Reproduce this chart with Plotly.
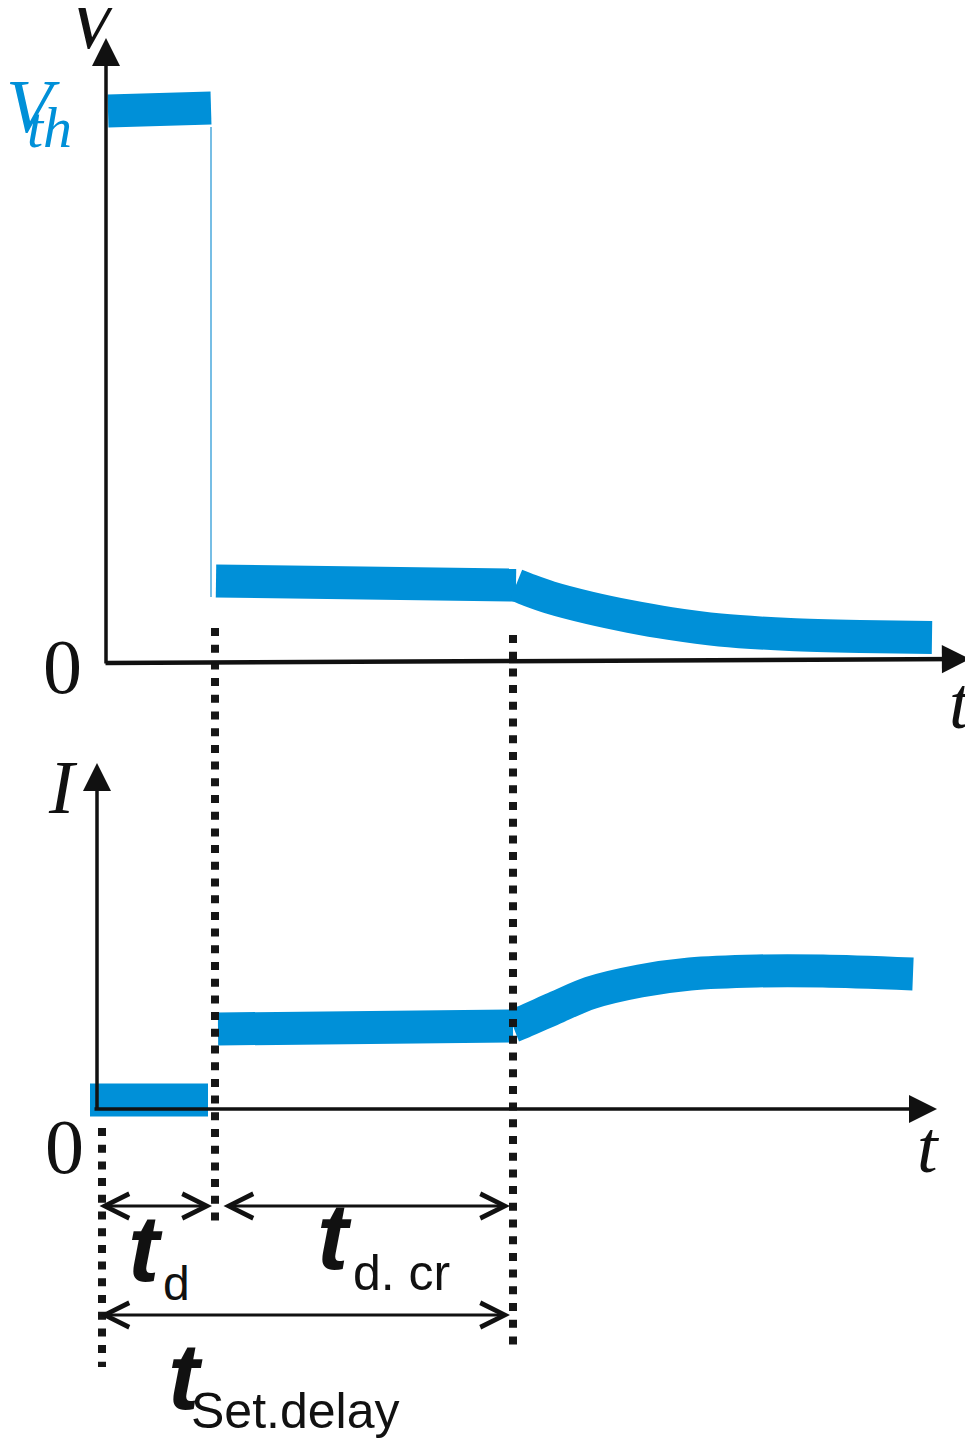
import plotly.graph_objects as go

# ---------------- data (time in arbitrary units, V and I in arbitrary units) -------------
BLUE = "#0090D8"

# Voltage trace
t_vth = [0.08, 1.11]
v_vth = [11.04, 11.10]
t_vdrop = [1.11, 1.11]
v_vdrop = [10.72, 1.32]
t_vlow = [1.16, 4.16]
v_vlow = [1.64, 1.56]
t_vdecay = [4.16, 4.3, 4.5, 4.9, 5.3, 5.7, 6.2, 6.9, 7.6, 8.32]
v_vdecay = [1.56, 1.45, 1.31, 1.10, 0.93, 0.79, 0.66, 0.57, 0.53, 0.51]

# Current trace
t_i0 = [-0.10, 1.08]
i_i0 = [0.18, 0.18]
t_imid = [1.18, 4.13]
i_imid = [1.60, 1.66]
t_irise = [4.13, 4.23, 4.57, 4.9, 5.4, 5.9, 6.57, 7.23, 8.13]
i_irise = [1.66, 1.74, 2.04, 2.32, 2.56, 2.70, 2.76, 2.76, 2.70]

# characteristic times (guide lines)
t_start = 0.02
t_d = 1.15
t_set = 4.13

# guide line extents (in I units)
guide_x = [t_start, t_d, t_set]
guide_top = [-0.38, 9.62, 9.48]
guide_bot = [-5.16, -2.32, -4.88]

fig = go.Figure()

def thick(x, y, yaxis, shape="linear"):
    fig.add_trace(go.Scatter(x=x, y=y, yaxis=yaxis, mode="lines",
                             line=dict(color=BLUE, width=33, shape=shape, smoothing=0.8),
                             hoverinfo="skip"))

thick(t_vth, v_vth, "y")
fig.add_trace(go.Scatter(x=t_vdrop, y=v_vdrop, yaxis="y", mode="lines",
                         line=dict(color="#4AA8DC", width=1.5), hoverinfo="skip"))
thick(t_vlow, v_vlow, "y")
thick(t_vdecay, v_vdecay, "y", "spline")
thick(t_i0, i_i0, "y2")
thick(t_imid, i_imid, "y2")
thick(t_irise, i_irise, "y2", "spline")

for gx, gt, gb in zip(guide_x, guide_top, guide_bot):
    fig.add_trace(go.Scatter(x=[gx, gx], y=[gt, gb], yaxis="y2", mode="lines",
                             line=dict(color="#161616", width=8, dash="8px,8.7px"),
                             hoverinfo="skip"))

ann = []

def arrow(x, y, ax, ay, yref, width, size, head=2, both=False):
    d = dict(x=x, y=y, ax=ax, ay=ay, xref="x", yref=yref, axref="x", ayref=yref,
             text="", showarrow=True, arrowhead=head, arrowsize=size,
             arrowwidth=width, arrowcolor="#111111", standoff=0, startstandoff=0)
    if both:
        d.update(arrowside="end+start", startarrowhead=head, startarrowsize=size)
    ann.append(d)

# axes
arrow(0.06, 12.5, 0.06, -0.04, "y", 3.5, 1.6)
arrow(8.70, 0.08, 0.04, 0.0, "y", 4.5, 1.25)
arrow(-0.03, 6.92, -0.03, -0.02, "y2", 3.5, 1.6)
arrow(8.37, 0.0, -0.07, 0.0, "y2", 3.5, 1.6)

# dimension arrows
arrow(1.12, -1.94, -0.02, -1.94, "y2", 3, 1.6, head=5, both=True)
arrow(4.10, -1.94, 1.22, -1.94, "y2", 3, 1.6, head=5, both=True)
arrow(4.10, -4.12, -0.02, -4.12, "y2", 3, 1.6, head=5, both=True)

SERIF = "Liberation Serif"
SANS = "Liberation Sans"

def label(x, y, yref, text, size, family, color="#111111"):
    ann.append(dict(x=x, y=y, xref="x", yref=yref, text=text, showarrow=False,
                    xanchor="center", yanchor="middle",
                    font=dict(family=family, size=size, color=color)))

label(-0.05, 12.82, "y", "<i>V</i>", 76, SERIF)
label(-0.67, 11.14, "y", "<i>V</i>", 76, SERIF, BLUE)
label(-0.51, 10.72, "y", "<i>th</i>", 58, SERIF, BLUE)
label(-0.38, -0.06, "y", "0", 78, SERIF)
label(8.60, -0.80, "y", "<i>t</i>", 74, SERIF)

label(-0.37, 6.44, "y2", "<i>I</i>", 76, SERIF)
label(-0.36, -0.74, "y2", "0", 78, SERIF)
label(8.28, -0.76, "y2", "<i>t</i>", 74, SERIF)

label(0.45, -2.78, "y2", "<b><i>t</i></b>", 94, SANS)
label(0.76, -3.48, "y2", "d", 48, SANS)
label(2.34, -2.54, "y2", "<b><i>t</i></b>", 94, SANS)
label(3.01, -3.28, "y2", "d. cr", 50, SANS)
label(0.85, -5.34, "y2", "<b><i>t</i></b>", 94, SANS)
label(1.95, -6.04, "y2", "Set.delay", 50, SANS)

# page body adds an 8px margin: figure spans page pixels 8..973 and 8..1444
fig.update_layout(
    width=965, height=1436,
    margin=dict(l=0, r=0, t=0, b=0, pad=0),
    paper_bgcolor="white", plot_bgcolor="white",
    showlegend=False,
    xaxis=dict(range=[-0.92, 8.73], visible=False, fixedrange=True),
    yaxis=dict(range=[-15.62, 13.10], visible=False, fixedrange=True, domain=[0, 1]),
    yaxis2=dict(range=[-6.70, 22.02], visible=False, fixedrange=True,
                overlaying="y", domain=[0, 1]),
    annotations=ann,
    hovermode=False,
)

fig.write_html("out.html", config={"displayModeBar": False})
